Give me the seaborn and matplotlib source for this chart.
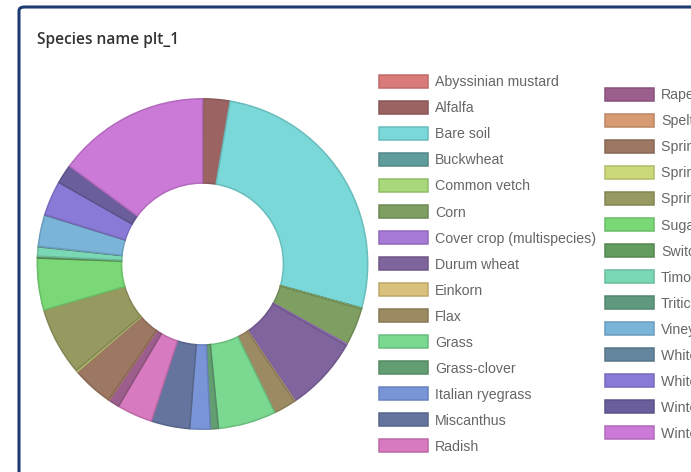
import numpy as np
import matplotlib
matplotlib.use("Agg")
import matplotlib.pyplot as plt
import seaborn as sns
from matplotlib.patches import FancyBboxPatch, Patch
from matplotlib.colors import to_rgb

species = ["Abyssinian mustard", "Alfalfa", "Bare soil", "Buckwheat", "Common vetch",
           "Corn", "Cover crop (multispecies)", "Durum wheat", "Einkorn", "Flax",
           "Grass", "Grass-clover", "Italian ryegrass", "Miscanthus", "Radish",
           "Rape", "Spelt", "Spring barley", "Spring oats", "Spring wheat",
           "Sugar beet", "Switchgrass", "Timothy", "Triticale", "Vineyard",
           "White clover", "White mustard", "Winter barley", "Winter wheat"]
share = [0.1, 2.6, 26.8, 0.05, 0.05,
         3.7, 0.15, 7.4, 0.05, 2.2,
         5.7, 0.8, 2.0, 3.8, 3.5,
         1.1, 0.05, 4.1, 0.15, 6.7,
         5.1, 0.2, 0.9, 0.05, 3.1,
         0.05, 3.4, 1.9, 15.0]
fill_colors = ["#DA7B7A", "#9B6463", "#7AD8D8", "#609C9C", "#A8D87A",
               "#7E9E62", "#A87AD8", "#80649E", "#D9C07B", "#9C8A62",
               "#7AD890", "#629E72", "#7A94D8", "#64749E", "#D87ABF",
               "#9C5E8C", "#D89A72", "#9C7862", "#CCD87A", "#969A60",
               "#7AD876", "#629C5E", "#7AD8B4", "#5F9A80", "#7AB4D8",
               "#64869E", "#8A7AD8", "#6A5E9C", "#CC7AD8"]

edge_colors = [tuple(c * 0.87 for c in to_rgb(h)) for h in fill_colors]

sns.set_theme(style="white")
plt.rcParams["font.family"] = ["Liberation Sans", "DejaVu Sans"]

W, H = 691, 472
fig = plt.figure(figsize=(W / 100, H / 100), dpi=100)

# card frame
frame = FancyBboxPatch((19 / W, -0.2), 1.2, (H - 7) / H + 0.2,
                       boxstyle="round,pad=0,rounding_size=0.008",
                       transform=fig.transFigure, fill=False,
                       edgecolor="#1F3C72", linewidth=2.2)
fig.patches.append(frame)

fig.text(37 / W, 1 - 40 / H, "Species name plt_1", fontsize=11.2,
         family=["Open Sans", "DejaVu Sans"], fontweight="semibold",
         color="#333333", va="center", ha="left")

cx, cy, r = 202.5, H - 264, 166
ax = fig.add_axes([(cx - r) / W, (cy - r) / H, 2 * r / W, 2 * r / H])
wedges, _ = ax.pie(share, colors=fill_colors, startangle=90, counterclock=False,
                   wedgeprops=dict(width=0.51, linewidth=1.1))
for w, ec in zip(wedges, edge_colors):
    w.set_edgecolor(ec)
ax.set_xlim(-1.005, 1.005)
ax.set_ylim(-1.005, 1.005)
ax.set_aspect("equal")
ax.axis("off")

handles = [Patch(facecolor=f, edgecolor=e, linewidth=1.1, label=s)
           for s, f, e in zip(species, fill_colors, edge_colors)]

leg_kw = dict(frameon=False, fontsize=10.2, handlelength=3.45, handleheight=1.05,
              handletextpad=0.5, labelspacing=0.82, borderpad=0, borderaxespad=0,
              labelcolor="#666666")
leg1 = fig.legend(handles=handles[:15], loc="upper left",
                  bbox_to_anchor=(379 / W, 1 - 75 / H), **leg_kw)
leg2 = fig.legend(handles=handles[15:], loc="upper left",
                  bbox_to_anchor=(605 / W, 1 - 88 / H), **leg_kw)

fig.savefig("out.png", dpi=100)
